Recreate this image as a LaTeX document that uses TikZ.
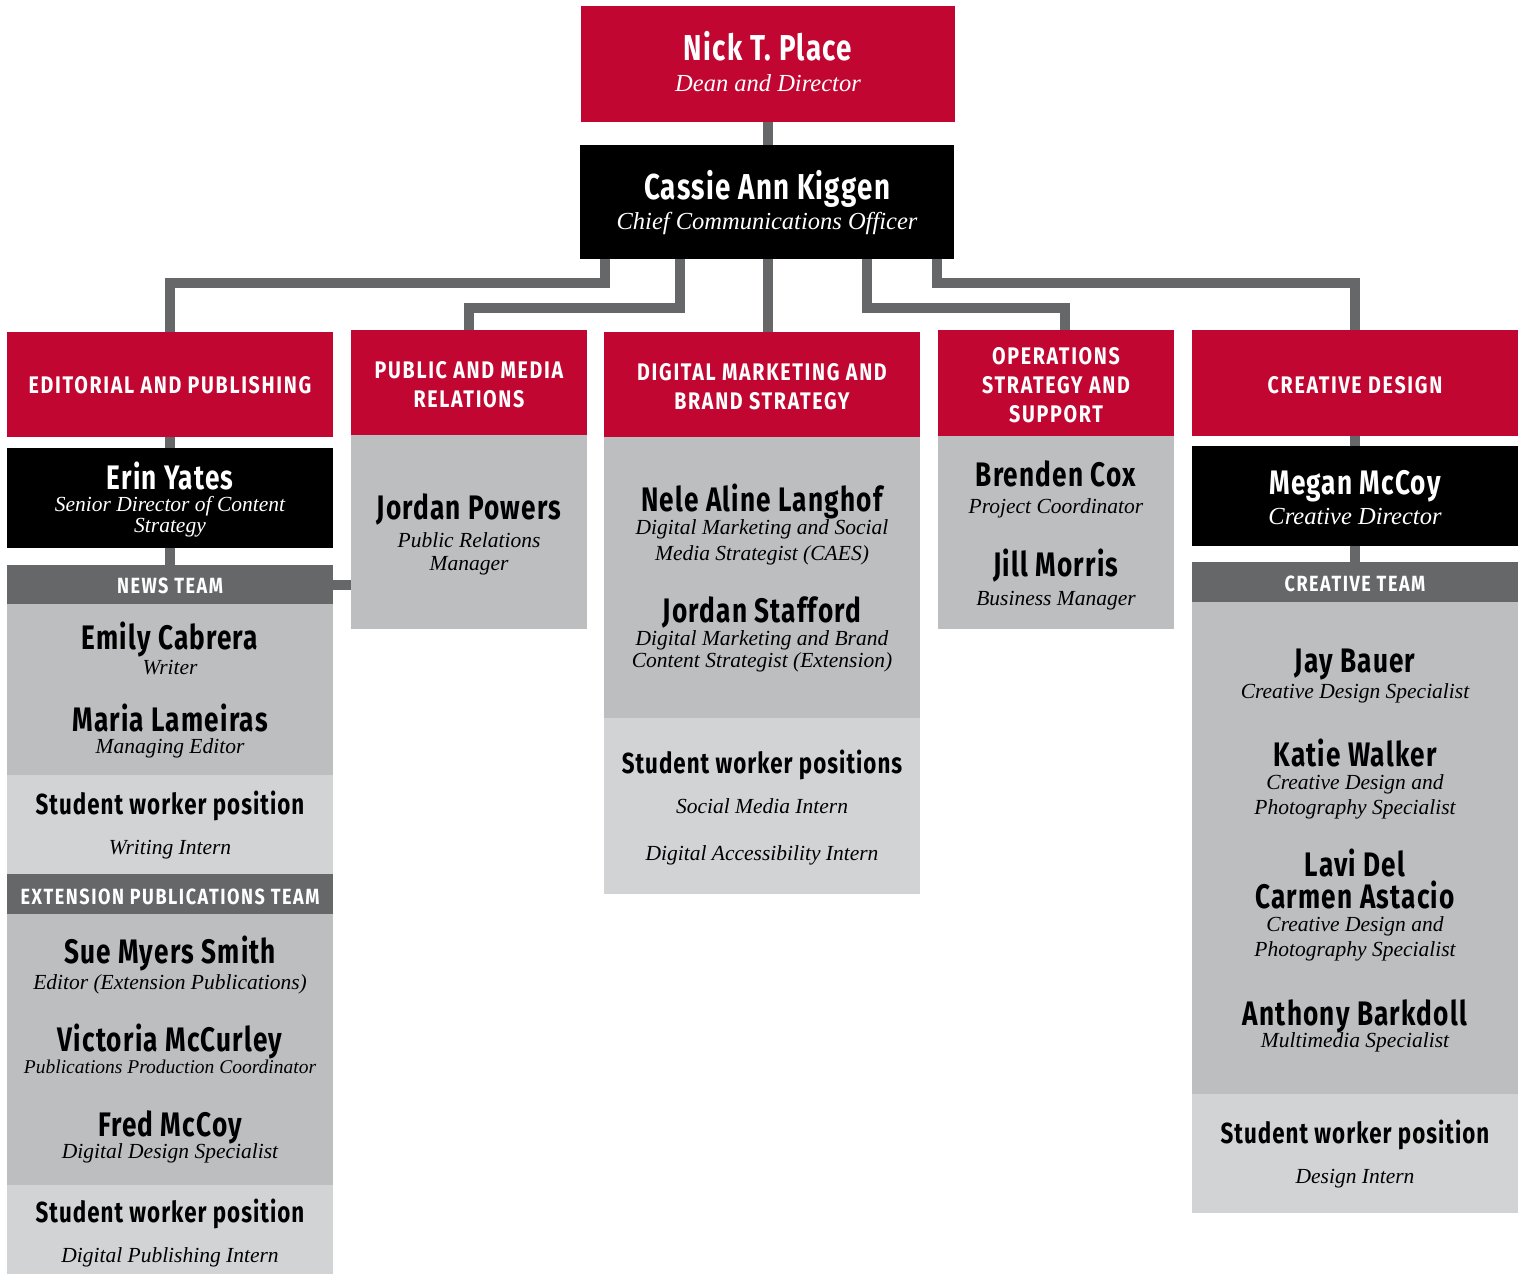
\documentclass[tikz,border=0pt]{standalone}
\usepackage{fontspec}
\setmainfont{Liberation Serif}
\newfontfamily\namefont[FakeStretch=0.77,LetterSpace=3.5]{Fira Sans}
\newfontfamily\capsfont[FakeStretch=0.82,LetterSpace=7]{Fira Sans}
\usetikzlibrary{positioning}
\definecolor{ucred}{HTML}{C10632}
\definecolor{darkbar}{HTML}{666769}
\definecolor{panelgray}{HTML}{BCBEC0}
\definecolor{studgray}{HTML}{D1D3D4}
\tikzset{
  panel/.style={rectangle, inner sep=0, outer sep=0, minimum width=326pt},
  link/.style={draw=darkbar, line width=10pt},
  bigname/.style={anchor=base, inner sep=0, font=\namefont\bfseries\fontsize{36}{36}\selectfont},
  pname/.style={anchor=base, inner sep=0, font=\namefont\bfseries\fontsize{34}{34}\selectfont},
  student/.style={anchor=base, inner sep=0, font=\namefont\bfseries\fontsize{29}{29}\selectfont},
  bigrole/.style={anchor=base, inner sep=0, font=\itshape\fontsize{24.5}{24.5}\selectfont},
  role/.style={anchor=base, inner sep=0, font=\itshape\fontsize{21.5}{21.5}\selectfont},
  caps/.style={anchor=base, inner sep=0, text=white, font=\capsfont\bfseries\fontsize{24}{24}\selectfont},
  barcaps/.style={anchor=base, inner sep=0, text=white, font=\capsfont\bfseries\fontsize{22}{22}\selectfont}
}
\begin{document}
\begin{tikzpicture}[x=1pt, y=-1pt]
  \useasboundingbox (0,0) rectangle (1523,1274);

  % top of the chart
  \node[panel, fill=ucred, minimum width=374pt, minimum height=116pt] (nick) at (768,64) {};
  \node[panel, fill=black, minimum width=374pt, minimum height=114pt] (cassie) at (767,202) {};

  % editorial and publishing
  \node[panel, fill=ucred, minimum height=105pt] (edit) at (170,384.5) {};
  \node[panel, fill=black, minimum height=100pt] (erin) at (170,498) {};
  \node[panel, fill=darkbar, minimum height=39pt] (news) at (170,584.5) {};
  \node[panel, fill=panelgray, minimum height=171pt, below=0pt of news] (newsbody) {};
  \node[panel, fill=studgray, minimum height=99pt, below=0pt of newsbody] (newsstud) {};
  \node[panel, fill=darkbar, minimum height=40pt, below=0pt of newsstud] (ext) {};
  \node[panel, fill=panelgray, minimum height=271pt, below=0pt of ext] (extbody) {};
  \node[panel, fill=studgray, minimum height=89pt, below=0pt of extbody] (extstud) {};

  % public and media relations
  \node[panel, fill=ucred, minimum width=236pt, minimum height=105pt] (pr) at (469,382.5) {};
  \node[panel, fill=panelgray, minimum width=236pt, minimum height=194pt, below=0pt of pr] (prbody) {};

  % digital marketing
  \node[panel, fill=ucred, minimum width=316pt, minimum height=105pt] (dig) at (762,384.5) {};
  \node[panel, fill=panelgray, minimum width=316pt, minimum height=281pt, below=0pt of dig] (digbody) {};
  \node[panel, fill=studgray, minimum width=316pt, minimum height=176pt, below=0pt of digbody] (digstud) {};

  % operations
  \node[panel, fill=ucred, minimum width=236pt, minimum height=106pt] (ops) at (1056,383) {};
  \node[panel, fill=panelgray, minimum width=236pt, minimum height=193pt, below=0pt of ops] (opsbody) {};

  % creative design
  \node[panel, fill=ucred, minimum height=106pt] (cre) at (1355,383) {};
  \node[panel, fill=black, minimum height=100pt] (megan) at (1355,496) {};
  \node[panel, fill=darkbar, minimum height=40pt] (creteam) at (1355,582) {};
  \node[panel, fill=panelgray, minimum height=492pt, below=0pt of creteam] (crebody) {};
  \node[panel, fill=studgray, minimum height=119pt, below=0pt of crebody] (crestud) {};

  % connectors
  \coordinate (busA) at (0,283);
  \coordinate (busB) at (0,308);
  \coordinate (digin) at ([xshift=6pt]dig.north);
  \coordinate (opsin) at ([xshift=9pt]ops.north);
  \draw[link] (nick.south) -- (nick.south |- cassie.north);
  \draw[link] ([xshift=-162pt]cassie.south) |- (busA -| edit.north) -- (edit.north);
  \draw[link] ([xshift=-87pt]cassie.south) |- (busB -| pr.north) -- (pr.north);
  \draw[link] (digin |- cassie.south) -- (digin);
  \draw[link] ([xshift=100pt]cassie.south) |- (busB -| opsin) -- (opsin);
  \draw[link] ([xshift=170pt]cassie.south) |- (busA -| cre.north) -- (cre.north);
  \draw[link] (edit.south) -- (erin.north);
  \draw[link] (erin.south) -- (news.north);
  \draw[link] (news.east) -- (news.east -| prbody.west);
  \draw[link] (cre.south) -- (megan.north);
  \draw[link] (megan.south) -- (creteam.north);

  % texts
  \node[bigname, text=white] (nickname) at (768,60) {Nick T. Place};
  \node[bigrole, text=white] (nickrole) at (768,91) {Dean and Director};
  \node[bigname, text=white] (cassiename) at (767,199) {Cassie Ann Kiggen};
  \node[bigrole, text=white] (cassierole) at (767,229) {Chief Communications Officer};

  \node[caps] (edithead) at (170,393) {EDITORIAL AND PUBLISHING};
  \node[caps] (prhead1) at (469,378) {PUBLIC AND MEDIA};
  \node[caps] (prhead2) at (469,407) {RELATIONS};
  \node[caps] (dighead1) at (762,380) {DIGITAL MARKETING AND};
  \node[caps] (dighead2) at (762,409) {BRAND STRATEGY};
  \node[caps] (opshead1) at (1056,364) {OPERATIONS};
  \node[caps] (opshead2) at (1056,393) {STRATEGY AND};
  \node[caps] (opshead3) at (1056,422) {SUPPORT};
  \node[caps] (crehead) at (1355,393) {CREATIVE DESIGN};

  \node[pname, text=white] (erinname) at (170,489) {Erin Yates};
  \node[role, text=white] (erinrole1) at (170,511) {Senior Director of Content};
  \node[role, text=white] (erinrole2) at (170,532) {Strategy};
  \node[barcaps] (newshead) at (170,593) {NEWS TEAM};
  \node[pname] (emily) at (170,649) {Emily Cabrera};
  \node[role] (emilyrole) at (170,674) {Writer};
  \node[pname] (maria) at (170,731) {Maria Lameiras};
  \node[role] (mariarole) at (170,753) {Managing Editor};
  \node[student] (newsstudent) at (170,814) {Student worker position};
  \node[role] (newsintern) at (170,854) {Writing Intern};
  \node[barcaps] (exthead) at (170,904) {EXTENSION PUBLICATIONS TEAM};
  \node[pname] (sue) at (170,963) {Sue Myers Smith};
  \node[role] (suerole) at (170,989) {Editor (Extension Publications)};
  \node[pname] (victoria) at (170,1051) {Victoria McCurley};
  \node[role, font=\itshape\fontsize{19.5}{19.5}\selectfont] (victoriarole) at (170,1073) {Publications Production Coordinator};
  \node[pname] (fred) at (170,1136) {Fred McCoy};
  \node[role] (fredrole) at (170,1158) {Digital Design Specialist};
  \node[student] (extstudent) at (170,1222) {Student worker position};
  \node[role] (extintern) at (170,1262) {Digital Publishing Intern};

  \node[pname] (jordanp) at (469,519) {Jordan Powers};
  \node[role] (jordanprole1) at (469,547) {Public Relations};
  \node[role] (jordanprole2) at (469,570) {Manager};

  \node[pname] (nele) at (762,511) {Nele Aline Langhof};
  \node[role] (nelerole1) at (762,534) {Digital Marketing and Social};
  \node[role] (nelerole2) at (762,560) {Media Strategist (CAES)};
  \node[pname] (jordans) at (762,622) {Jordan Stafford};
  \node[role] (jordansrole1) at (762,645) {Digital Marketing and Brand};
  \node[role] (jordansrole2) at (762,667) {Content Strategist (Extension)};
  \node[student] (digstudent) at (762,773) {Student worker positions};
  \node[role] (digintern1) at (762,813) {Social Media Intern};
  \node[role] (digintern2) at (762,860) {Digital Accessibility Intern};

  \node[pname] (brenden) at (1056,486) {Brenden Cox};
  \node[role] (brendenrole) at (1056,513) {Project Coordinator};
  \node[pname] (jill) at (1056,576) {Jill Morris};
  \node[role] (jillrole) at (1056,605) {Business Manager};

  \node[pname, text=white] (meganname) at (1355,494) {Megan McCoy};
  \node[bigrole, text=white] (meganrole) at (1355,524) {Creative Director};
  \node[barcaps] (creteamhead) at (1355,591) {CREATIVE TEAM};
  \node[pname] (jay) at (1355,672) {Jay Bauer};
  \node[role] (jayrole) at (1355,698) {Creative Design Specialist};
  \node[pname] (katie) at (1355,766) {Katie Walker};
  \node[role] (katierole1) at (1355,789) {Creative Design and};
  \node[role] (katierole2) at (1355,814) {Photography Specialist};
  \node[pname] (lavi1) at (1355,876) {Lavi Del};
  \node[pname] (lavi2) at (1355,908) {Carmen Astacio};
  \node[role] (lavirole1) at (1355,931) {Creative Design and};
  \node[role] (lavirole2) at (1355,956) {Photography Specialist};
  \node[pname] (anthony) at (1355,1025) {Anthony Barkdoll};
  \node[role] (anthonyrole) at (1355,1047) {Multimedia Specialist};
  \node[student] (crestudent) at (1355,1143) {Student worker position};
  \node[role] (creintern) at (1355,1183) {Design Intern};
\end{tikzpicture}
\end{document}
